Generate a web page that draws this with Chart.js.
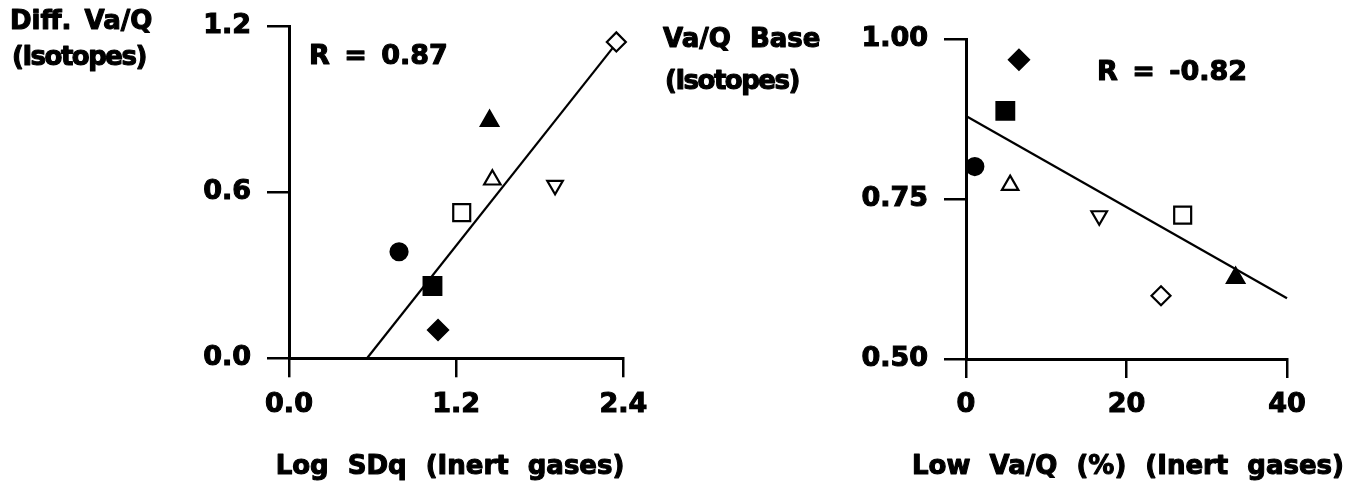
<!DOCTYPE html>
<html>
<head>
<meta charset="utf-8">
<title>Va/Q isotopes vs inert gases</title>
<script src="https://cdn.jsdelivr.net/npm/chart.js@4.4.1/dist/chart.umd.min.js"></script>
<style>
  html, body { margin: 0; padding: 0; background: #fff; }
  body { width: 1363px; height: 481px; position: relative; overflow: hidden; }
  canvas { position: absolute; top: 0; }
  #left-chart { left: 0; }
  #right-chart { left: 650px; }
</style>
</head>
<body>
<canvas id="left-chart" width="690" height="481"></canvas>
<canvas id="right-chart" width="713" height="481"></canvas>
<script>
// Subjects, same marker in both panels:
// filled circle, filled square, filled diamond, filled triangle,
// open square, open triangle, open inverted triangle, open diamond
const markerStyles = ['circle', 'rect', 'rectRot', 'triangle', 'rect', 'triangle', 'triangle', 'rectRot'];
const markerFilled = [true, true, true, true, false, false, false, false];
const markerRotation = [0, 0, 0, 0, 0, 0, 180, 0];
const markerRadius = [8.5, 12.5, 10, 10, 12, 9.5, 9, 9.5];

// Left panel: Diff. Va/Q (isotopes) vs Log SDq (inert gases)
const logSDq = [0.79, 1.03, 1.07, 1.44, 1.24, 1.46, 1.91, 2.35];
const diffVaQ = [0.385, 0.261, 0.102, 0.858, 0.526, 0.645, 0.625, 1.143];
const leftFitX = [0.56, 2.33];
const leftFitY = [0.0, 1.125];
const leftXTicks = [0, 1.2, 2.4];
const leftYTicks = [0, 0.6, 1.2];

// Right panel: Va/Q base (isotopes) vs Low Va/Q % (inert gases)
const lowVaQ = [1.1, 4.9, 6.6, 33.6, 27.0, 5.5, 16.6, 24.3];
const baseVaQ = [0.801, 0.888, 0.968, 0.627, 0.725, 0.772, 0.724, 0.599];
const rightFitX = [0, 40];
const rightFitY = [0.88, 0.595];
const rightXTicks = [0, 20, 40];
const rightYTicks = [0.5, 0.75, 1.0];

Chart.defaults.font.family = "'DejaVu Sans', sans-serif";
Chart.defaults.color = '#000';

// Draws the horizontal axis titles and the R labels
const panelText = {
  id: 'panelText',
  afterDraw(chart, args, opts) {
    const ctx = chart.ctx;
    ctx.save();
    ctx.fillStyle = '#000';
    ctx.strokeStyle = '#000';
    ctx.lineWidth = 1.1;
    ctx.lineJoin = 'round';
    ctx.textBaseline = 'middle';
    opts.items.forEach(t => {
      ctx.font = `bold ${t.size}px 'DejaVu Sans'`;
      ctx.textAlign = t.align || 'left';
      ctx.letterSpacing = t.letter || '0px';
      ctx.wordSpacing = t.word || '0px';
      ctx.fillText(t.text, t.x, t.y);
      ctx.strokeText(t.text, t.x, t.y);
    });
    ctx.restore();
  }
};

function makePoints(xs, ys) {
  return xs.map((x, i) => ({ x: x, y: ys[i] }));
}

function buildScales(xRange, yRange, xTicks, yTicks, xDigits, yDigits, yWidth, xHeight) {
  return {
    x: {
      type: 'linear',
      min: xRange[0],
      max: xRange[1],
      afterBuildTicks: s => { s.ticks = xTicks.map(v => ({ value: v })); },
      afterFit: s => { s.height = xHeight; },
      grid: {
        drawOnChartArea: false, drawTicks: true, tickLength: 19,
        color: '#000', lineWidth: 2.5, tickColor: '#000', tickWidth: 2.5
      },
      border: { display: true, color: '#000', width: 3 },
      ticks: {
        font: { size: 27, weight: 'bold' },
        padding: 11,
        maxRotation: 0,
        textStrokeColor: '#000',
        textStrokeWidth: 1.1,
        callback: v => v.toFixed(xDigits)
      }
    },
    y: {
      type: 'linear',
      min: yRange[0],
      max: yRange[1],
      afterBuildTicks: s => { s.ticks = yTicks.map(v => ({ value: v })); },
      afterFit: s => { s.width = yWidth; },
      grid: {
        drawOnChartArea: false, drawTicks: true, tickLength: 22,
        color: '#000', lineWidth: 2.5, tickColor: '#000', tickWidth: 2.5
      },
      border: { display: true, color: '#000', width: 3 },
      ticks: {
        font: { size: 27, weight: 'bold', lineHeight: 0.75 },
        padding: 16,
        textStrokeColor: '#000',
        textStrokeWidth: 1.1,
        callback: v => v.toFixed(yDigits)
      }
    }
  };
}

function buildChart(canvasId, cfg) {
  const ctx = document.getElementById(canvasId);
  return new Chart(ctx, {
    type: 'scatter',
    data: {
      datasets: [
        {
          label: 'subjects',
          data: makePoints(cfg.xs, cfg.ys),
          pointStyle: markerStyles,
          pointRotation: markerRotation,
          pointRadius: markerRadius,
          pointHoverRadius: markerRadius,
          pointBackgroundColor: markerFilled.map(f => f ? '#000' : '#fff'),
          pointBorderColor: '#000',
          pointBorderWidth: 2.2,
          clip: false,
          order: 1
        },
        {
          label: 'fit',
          data: makePoints(cfg.fitX, cfg.fitY),
          showLine: true,
          borderColor: '#000',
          borderWidth: 2.2,
          pointRadius: 0,
          clip: false,
          order: 2
        }
      ]
    },
    options: {
      responsive: false,
      animation: false,
      layout: { padding: cfg.padding },
      plugins: {
        legend: { display: false },
        tooltip: { enabled: false },
        panelText: { items: cfg.texts }
      },
      scales: buildScales(cfg.xRange, cfg.yRange, cfg.xTicks, cfg.yTicks, cfg.xDigits, cfg.yDigits, cfg.yWidth, cfg.xHeight)
    },
    plugins: [panelText]
  });
}

buildChart('left-chart', {
  xs: logSDq, ys: diffVaQ, fitX: leftFitX, fitY: leftFitY,
  xRange: [0, 2.4], yRange: [0, 1.2], xTicks: leftXTicks, yTicks: leftYTicks,
  xDigits: 1, yDigits: 1,
  yWidth: 289, xHeight: 122.7,
  padding: { left: 0, top: 26, right: 66.7, bottom: 0 },
  texts: [
    { text: 'Diff. Va/Q', x: 10, y: 22, size: 26, word: '4px' },
    { text: '(Isotopes)', x: 12, y: 58, size: 26, letter: '-1.5px' },
    { text: 'Log SDq (Inert gases)', x: 450, y: 467, size: 26, align: 'center', word: '10px' },
    { text: 'R = 0.87', x: 309, y: 57, size: 27, word: '5px' }
  ]
});

buildChart('right-chart', {
  xs: lowVaQ, ys: baseVaQ, fitX: rightFitX, fitY: rightFitY,
  xRange: [0, 40], yRange: [0.5, 1.0], xTicks: rightXTicks, yTicks: rightYTicks,
  xDigits: 0, yDigits: 2,
  yWidth: 316, xHeight: 122,
  padding: { left: 0, top: 39.3, right: 76, bottom: 0 },
  texts: [
    { text: 'Va/Q Base', x: 13, y: 40, size: 26, word: '10px' },
    { text: '(Isotopes)', x: 15, y: 82, size: 26, letter: '-1.5px' },
    { text: 'Low Va/Q (%) (Inert gases)', x: 478, y: 467, size: 26, align: 'center', word: '10px' },
    { text: 'R = -0.82', x: 447, y: 73, size: 27, word: '5px' }
  ]
});
</script>
</body>
</html>
